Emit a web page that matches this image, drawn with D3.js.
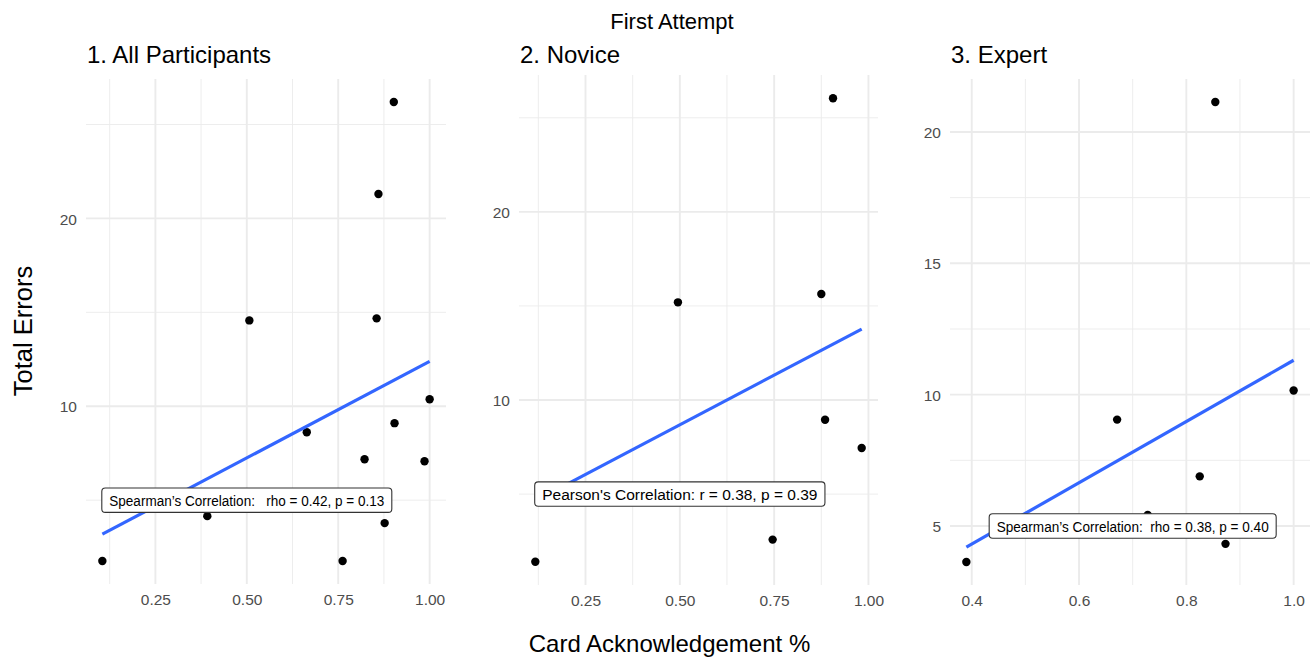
<!DOCTYPE html>
<html>
<head>
<meta charset="utf-8">
<script src="https://cdn.jsdelivr.net/npm/d3@7"></script>
<style>
  html, body { margin: 0; padding: 0; background: #fff; }
  svg { display: block; font-family: "Liberation Sans", Arial, Helvetica, sans-serif; }
  svg text { white-space: pre; }
</style>
</head>
<body>
<svg id="chart" width="1313" height="660"></svg>
<script>
// ---------------- DATA ----------------
// Panel 1: All participants (card acknowledgement share, total errors)
const allX = [0.902, 0.860, 0.507, 0.855, 0.664, 0.822, 0.904, 1.000, 0.986, 0.392, 0.877, 0.762, 0.105, 0.728];
const allY = [26.2, 21.3, 14.57, 14.68, 8.62, 7.18, 9.10, 10.37, 7.07, 4.15, 3.78, 1.76, 1.76, 5.42];
const allFitX = [0.105, 1.000];
const allFitY = [3.19, 12.39];

// Panel 2: Novice
const noviceX = [0.906, 0.495, 0.875, 0.885, 0.982, 0.746, 0.117];
const noviceY = [26.04, 15.19, 15.63, 8.95, 7.45, 2.58, 1.40];
const noviceFitX = [0.117, 0.982];
const noviceFitY = [4.64, 13.77];

// Panel 3: Expert
const expertX = [0.854, 0.671, 1.000, 0.825, 0.728, 0.873, 0.390];
const expertY = [21.14, 9.05, 10.16, 6.89, 5.42, 4.32, 3.63];
const expertFitX = [0.390, 1.000];
const expertFitY = [4.20, 11.31];

// Ticks
const xTicksA = [0.25, 0.50, 0.75, 1.00];
const xMinorA = [0.125, 0.375, 0.625, 0.875];
const yTicksA = [10, 20];
const yMinorA = [5, 15, 25];
const xTicksE = [0.4, 0.6, 0.8, 1.0];
const xMinorE = [0.5, 0.7, 0.9];
const yTicksE = [5, 10, 15, 20];
const yMinorE = [7.5, 12.5, 17.5];

// Titles & annotations
const panelTitles = ["1. All Participants", "2. Novice", "3. Expert"];
const corrLabels = [
  "Spearman\u2019s Correlation:   rho = 0.42, p = 0.13",
  "Pearson's Correlation: r = 0.38, p = 0.39",
  "Spearman\u2019s Correlation:  rho = 0.38, p = 0.40"
];
const labelX = [0.5, 0.5, 0.7];
const labelY = [5, 5, 5];
const mainTitle = "First Attempt";
const xTitle = "Card Acknowledgement %";
const yTitle = "Total Errors";

// ---------------- LAYOUT ----------------
const panels = [
  { xs: allX, ys: allY, fx: allFitX, fy: allFitY, xT: xTicksA, xM: xMinorA, yT: yTicksA, yM: yMinorA,
    fmt: d3.format(".2f"), left: 86, right: 446, top: 79, bottom: 584, textLen: 275 },
  { xs: noviceX, ys: noviceY, fx: noviceFitX, fy: noviceFitY, xT: xTicksA, xM: xMinorA, yT: yTicksA, yM: yMinorA,
    fmt: d3.format(".2f"), left: 519, right: 878, top: 75, bottom: 585, textLen: null },
  { xs: expertX, ys: expertY, fx: expertFitX, fy: expertFitY, xT: xTicksE, xM: xMinorE, yT: yTicksE, yM: yMinorE,
    fmt: d3.format(".1f"), left: 950, right: 1310, top: 79, bottom: 585, textLen: 272 }
];

const svg = d3.select("#chart");
const gridCol = "#ebebeb";

function expand(ext) {
  const pad = (ext[1] - ext[0]) * 0.05;
  return [ext[0] - pad, ext[1] + pad];
}

panels.forEach((p, i) => {
  const x = d3.scaleLinear().domain(expand(d3.extent(p.xs))).range([p.left, p.right]);
  const y = d3.scaleLinear().domain(expand(d3.extent(p.ys))).range([p.bottom, p.top]);
  const g = svg.append("g");

  // minor grid
  g.selectAll(".vmin").data(p.xM).join("line")
    .attr("x1", d => x(d)).attr("x2", d => x(d)).attr("y1", p.top).attr("y2", p.bottom)
    .attr("stroke", gridCol).attr("stroke-width", 0.9);
  g.selectAll(".hmin").data(p.yM).join("line")
    .attr("y1", d => y(d)).attr("y2", d => y(d)).attr("x1", p.left).attr("x2", p.right)
    .attr("stroke", gridCol).attr("stroke-width", 0.9);
  // major grid
  g.selectAll(".vmaj").data(p.xT).join("line")
    .attr("x1", d => x(d)).attr("x2", d => x(d)).attr("y1", p.top).attr("y2", p.bottom)
    .attr("stroke", gridCol).attr("stroke-width", 1.9);
  g.selectAll(".hmaj").data(p.yT).join("line")
    .attr("y1", d => y(d)).attr("y2", d => y(d)).attr("x1", p.left).attr("x2", p.right)
    .attr("stroke", gridCol).attr("stroke-width", 1.9);

  // axes (labels only)
  const ax = g.append("g").attr("transform", `translate(0,${p.bottom})`)
    .call(d3.axisBottom(x).tickValues(p.xT).tickFormat(p.fmt).tickSize(0).tickPadding(0));
  ax.select(".domain").remove();
  ax.selectAll("text").attr("dy", null).attr("y", 21)
    .attr("font-size", "15.5px").attr("fill", "#4d4d4d")
    .style("font-family", "'Liberation Sans', Arial, sans-serif");

  const ay = g.append("g").attr("transform", `translate(${p.left},0)`)
    .call(d3.axisLeft(y).tickValues(p.yT).tickFormat(d3.format("d")).tickSize(0).tickPadding(0));
  ay.select(".domain").remove();
  ay.selectAll("text").attr("x", -9).attr("dy", "0.36em")
    .attr("font-size", "15.5px").attr("fill", "#4d4d4d")
    .style("font-family", "'Liberation Sans', Arial, sans-serif");

  // points
  const pts = p.xs.map((v, k) => [v, p.ys[k]]);
  g.selectAll(".pt").data(pts).join("circle")
    .attr("cx", d => x(d[0])).attr("cy", d => y(d[1])).attr("r", 4.2).attr("fill", "#000");

  // fit line
  const fit = p.fx.map((v, k) => [v, p.fy[k]]);
  g.append("path").datum(fit)
    .attr("d", d3.line().x(d => x(d[0])).y(d => y(d[1])))
    .attr("fill", "none").attr("stroke", "#3366FF").attr("stroke-width", 3.2);

  // title
  g.append("text").attr("x", p.left + 1).attr("y", 62.5)
    .attr("font-size", "24px").attr("fill", "#000").text(panelTitles[i]);

  // correlation label
  const cx = x(labelX[i]), cy = y(labelY[i]);
  const lg = g.append("g");
  const rect = lg.append("rect");
  const t = lg.append("text").attr("x", cx).attr("y", cy + 5.5)
    .attr("text-anchor", "middle").attr("font-size", "15.5px").attr("fill", "#000")
    .attr("xml:space", "preserve")
    .text(corrLabels[i]);
  if (p.textLen) t.attr("textLength", p.textLen).attr("lengthAdjust", "spacingAndGlyphs");
  const tw = p.textLen || t.node().getComputedTextLength();
  const bw = tw + 15;
  rect.attr("x", cx - bw / 2).attr("y", cy - 12.2).attr("width", bw).attr("height", 24.4)
    .attr("rx", 3.5).attr("fill", "#fff").attr("stroke", "#333").attr("stroke-width", 1.1);
});

// global titles
svg.append("text").attr("x", 672).attr("y", 29).attr("text-anchor", "middle")
  .attr("font-size", "22px").attr("fill", "#000").text(mainTitle);
svg.append("text").attr("x", 669.5).attr("y", 652).attr("text-anchor", "middle")
  .attr("font-size", "24px").attr("fill", "#000").text(xTitle);
svg.append("text").attr("transform", "translate(32,331) rotate(-90)").attr("text-anchor", "middle")
  .attr("font-size", "25.5px").attr("fill", "#000").text(yTitle);
</script>
</body>
</html>
